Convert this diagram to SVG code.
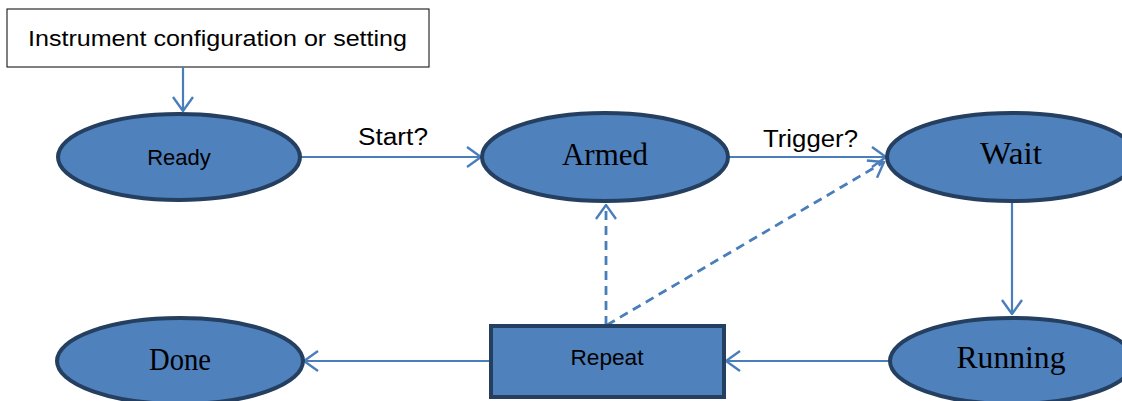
<svg xmlns="http://www.w3.org/2000/svg" width="1122" height="401" viewBox="0 0 1122 401">
<style>
.state{fill:#4F81BD;stroke:#243F60;stroke-width:4}
.serif{font-family:"Liberation Serif","Times New Roman",serif;font-size:31px;fill:#000;text-anchor:middle}
.sans{font-family:"Liberation Sans",Arial,sans-serif;fill:#000}
.conn{stroke:#4A7EBB;stroke-width:2.2;fill:none}
.dash{stroke-width:2.8;stroke-dasharray:9 6}
</style>
<defs>
<marker id="arr" viewBox="0 0 16 22" refX="15" refY="11" markerWidth="16" markerHeight="22" markerUnits="userSpaceOnUse" orient="auto">
<path d="M1,1 L15,11 L1,21" fill="none" stroke="#4A7EBB" stroke-width="2.4"/>
</marker>
</defs>
<rect width="1122" height="401" fill="#fff"/>
<g id="config">
<rect x="7" y="9" width="422" height="58" fill="#fff" stroke="#000" stroke-width="1"/>
<text class="sans" x="28" y="46" font-size="22" textLength="379" lengthAdjust="spacingAndGlyphs">Instrument configuration or setting</text>
</g>
<g id="connectors">
<line class="conn" x1="183" y1="67" x2="183" y2="111" marker-end="url(#arr)"/>
<line class="conn" x1="301" y1="157" x2="481" y2="157" marker-end="url(#arr)"/>
<text class="sans" x="358" y="145" font-size="23" textLength="70" lengthAdjust="spacingAndGlyphs">Start?</text>
<line class="conn" x1="729" y1="157" x2="886" y2="157" marker-end="url(#arr)"/>
<text class="sans" x="763" y="147" font-size="23" textLength="95" lengthAdjust="spacingAndGlyphs">Trigger?</text>
<line class="conn" x1="1012" y1="202" x2="1012" y2="314" marker-end="url(#arr)"/>
<line class="conn" x1="890" y1="361" x2="726" y2="361" marker-end="url(#arr)"/>
<line class="conn" x1="490" y1="361" x2="304" y2="361" marker-end="url(#arr)"/>
<line class="conn dash" x1="606" y1="325" x2="606" y2="205" marker-end="url(#arr)"/>
<line class="conn dash" x1="607" y1="325" x2="884" y2="162" marker-end="url(#arr)"/>
</g>
<g id="ready">
<ellipse class="state" cx="179" cy="157" rx="121" ry="43"/>
<text class="sans" x="179" y="165" font-size="22" text-anchor="middle">Ready</text>
</g>
<g id="armed">
<ellipse class="state" cx="605" cy="157" rx="123" ry="44"/>
<text class="serif" x="605" y="165" textLength="86" lengthAdjust="spacingAndGlyphs">Armed</text>
</g>
<g id="wait">
<ellipse class="state" cx="1012" cy="157" rx="125" ry="44"/>
<text class="serif" x="1011" y="164" textLength="62" lengthAdjust="spacingAndGlyphs">Wait</text>
</g>
<g id="running">
<ellipse class="state" cx="1012" cy="361" rx="122" ry="43"/>
<text class="serif" x="1011" y="368" textLength="109" lengthAdjust="spacingAndGlyphs">Running</text>
</g>
<g id="repeat">
<rect class="state" x="491" y="326" width="233" height="71"/>
<text class="sans" x="607" y="365" font-size="22" text-anchor="middle" textLength="73" lengthAdjust="spacingAndGlyphs">Repeat</text>
</g>
<g id="done">
<ellipse class="state" cx="180" cy="361" rx="123" ry="43"/>
<text class="serif" x="180" y="370" textLength="62" lengthAdjust="spacingAndGlyphs">Done</text>
</g>
</svg>
